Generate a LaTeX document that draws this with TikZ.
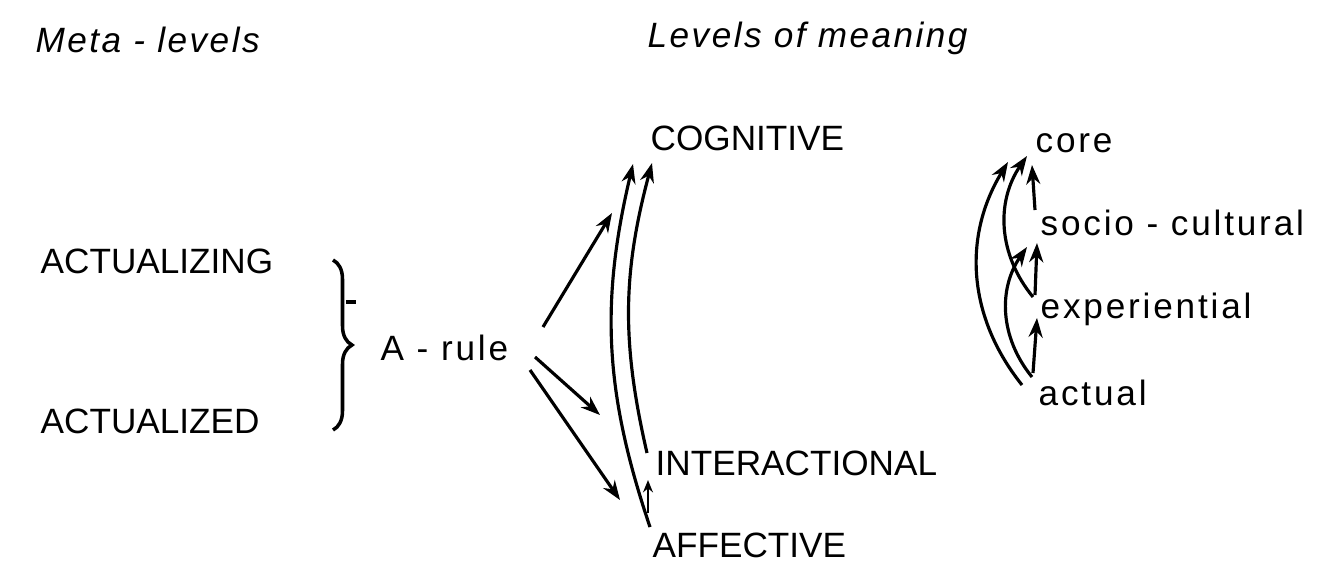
\documentclass[tikz,border=0pt]{standalone}
\usepackage{fontspec}
\setmainfont{Liberation Sans}
\newfontfamily\spacedfont{Liberation Sans}[LetterSpace=8]
\newfontfamily\headfont{Liberation Sans}[LetterSpace=7]
\usetikzlibrary{positioning, arrows.meta, decorations.pathreplacing, calc}

\begin{document}
\begin{tikzpicture}[x=0.01cm, y=-0.01cm,
  head/.style={anchor=base west, inner sep=0pt, font=\headfont\itshape},
  caps/.style={anchor=base west, inner sep=0pt, font=\normalfont},
  lower/.style={anchor=base west, inner sep=0pt, font=\spacedfont},
  arr/.style={-{Stealth[length=5.5pt, width=4pt]}, line width=0.9pt},
  tiny_arr/.style={-{Stealth[open, length=3.5pt, width=2.8pt]}, line width=0.6pt},
  brace/.style={decorate, decoration={brace, amplitude=5.4pt}, line width=1pt},
]
\useasboundingbox (0,0) rectangle (1327,560);

% Headings
\node[head] (h1) at (35,52) {Meta - levels};
\node[head] (h2) at (647,47) {Levels of meaning};

% Meta-levels
\node[caps] (a1) at (40,273) {ACTUALIZING};
\node[caps] (a2) at (40,433) {ACTUALIZED};
\node[lower] (r1) at (380,360) {A - rule};

% Levels of meaning
\node[caps] (m1) at (650,150) {COGNITIVE};
\node[caps] (m2) at (655,475) {INTERACTIONAL};
\node[caps] (m3) at (652,557) {AFFECTIVE};

% Sub-levels
\node[lower] (s1) at (1035,152) {core};
\node[lower] (s2) at (1040,235) {socio - cultural};
\node[lower] (s3) at (1040,318) {experiential};
\node[lower] (s4) at (1038,405) {actual};

% Brace
\draw[brace] ([shift={(293,-13)}]a1.base west) -- ([shift={(293,-3)}]a2.base west);
\draw[line width=1pt] (346,302) -- (356,302);

% A-rule arrows
\draw[arr] ([shift={(163,-33)}]r1.base west) -- ([shift={(-38,63)}]m1.base west);
\draw[arr] ([shift={(155,-3)}]r1.base west) -- ([shift={(-55,-60)}]m2.base west);
\draw[arr] ([shift={(150,10)}]r1.base west) -- ([shift={(-32,-57)}]m3.base west);

% Level arrows
\draw[arr] ([shift={(-2,-30)}]m3.base west) to[bend left=16] ([shift={(-17,14)}]m1.base west);
\draw[arr] ([shift={(-8,-22)}]m2.base west) to[bend left=14] ([shift={(2,13)}]m1.base west);
\draw[tiny_arr] ([shift={(-4,-44)}]m3.base west) -- ([shift={(-7,5)}]m2.base west);

% Sub-level arrows
\draw[arr] ([shift={(-5,-32)}]s4.base west) -- ([shift={(-3,0)}]s3.base west);
\draw[arr] ([shift={(-5,-23)}]s3.base west) -- ([shift={(-3,8)}]s2.base west);
\draw[arr] ([shift={(-5,-25)}]s2.base west) -- ([shift={(-3,13)}]s1.base west);
\draw[arr] ([shift={(-16,-20)}]s4.base west) to[bend left=35] ([shift={(-27,10)}]s1.base west);
\draw[arr] ([shift={(-6,-28)}]s4.base west) to[bend left=37] ([shift={(-13,12)}]s2.base west);
\draw[arr] ([shift={(-7,-21)}]s3.base west) to[bend left=37] ([shift={(-8,4)}]s1.base west);

\end{tikzpicture}
\end{document}
